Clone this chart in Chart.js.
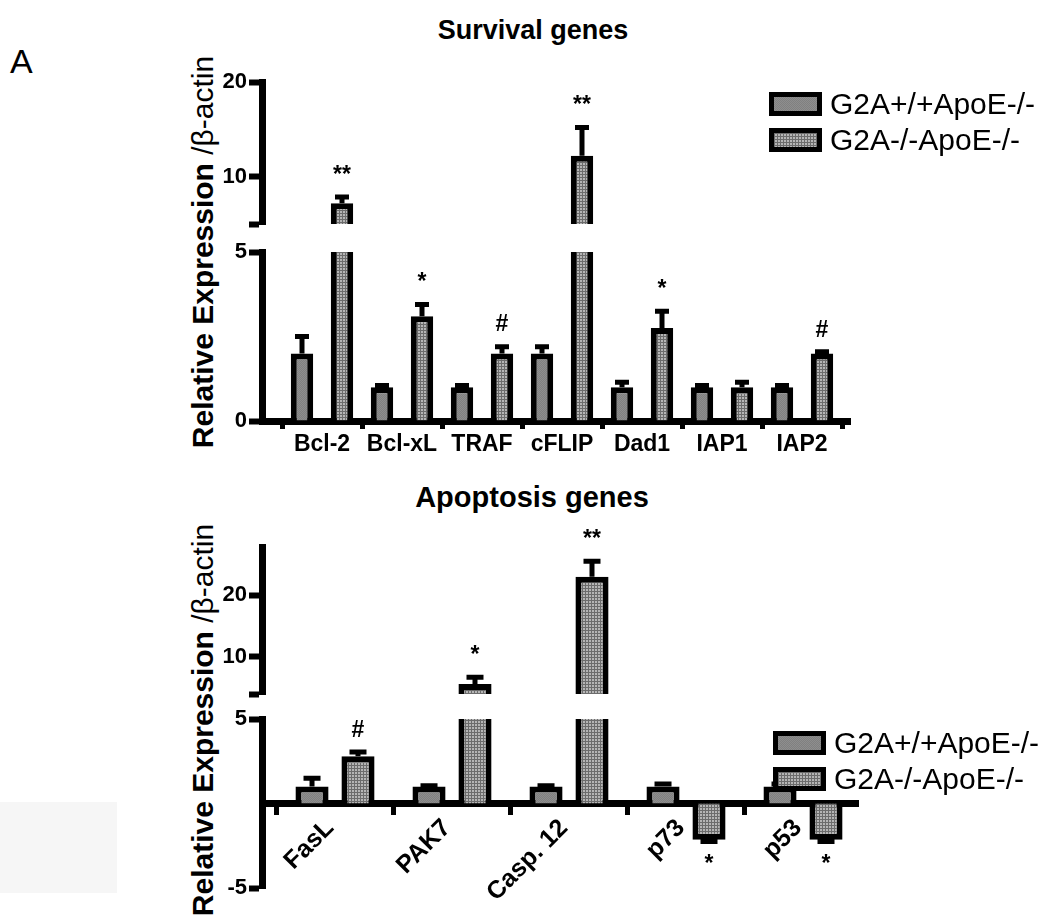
<!DOCTYPE html>
<html>
<head>
<meta charset="utf-8">
<script src="https://cdn.jsdelivr.net/npm/chart.js@4.4.1/dist/chart.umd.min.js"></script>
<style>
  body { margin: 0; background: #fff; font-family: "Liberation Sans", Arial, sans-serif; }
  #wrap { position: relative; width: 1050px; height: 923px; overflow: hidden; }
  #wrap canvas { position: absolute; left: 0; top: 0; }
  .txt { position: absolute; color: #000; white-space: nowrap; line-height: 1; }
  .title { font-weight: bold; transform: translateX(-50%); }
  .ytitle { font-size: 30px; transform: translate(-50%, -50%) rotate(-90deg); }
  .legend { position: absolute; }
  .legend .row { display: flex; align-items: center; height: 36px; }
  .legend .box { width: 43px; height: 14px; border: 5px solid #000; margin-right: 8px; }
  .legend .lbl { font-size: 30px; }
</style>
</head>
<body>
<div id="wrap">
  <div style="position:absolute;left:0;top:802px;width:117px;height:91px;background:#f6f6f6"></div>
  <div class="txt" style="left:10px;top:44px;font-size:34px">A</div>
  <div class="txt title" style="left:533px;top:17px;font-size:27px">Survival genes</div>
  <div class="txt title" style="left:532px;top:483px;font-size:29px">Apoptosis genes</div>
  <div class="txt ytitle" style="left:203px;top:252px"><b>Relative Expression </b>/β-actin</div>
  <div class="txt ytitle" style="left:203px;top:720px"><b>Relative Expression </b>/β-actin</div>
  <canvas id="survUpper" width="1050" height="923"></canvas>
  <canvas id="survLower" width="1050" height="923"></canvas>
  <canvas id="apopUpper" width="1050" height="923"></canvas>
  <canvas id="apopLower" width="1050" height="923"></canvas>
  <div class="legend" id="legendTop" style="left:769px;top:86px"></div>
  <div class="legend" id="legendBottom" style="left:773px;top:725px"></div>
</div>
<script>
// ---- data ----
const seriesNames = ['G2A+/+ApoE-/-', 'G2A-/-ApoE-/-'];

const survivalGenes = ['Bcl-2', 'Bcl-xL', 'TRAF', 'cFLIP', 'Dad1', 'IAP1', 'IAP2'];
const survivalWT = [2.0, 1.0, 1.0, 2.0, 1.0, 1.0, 1.0];
const survivalWTErr = [0.5, 0.05, 0.05, 0.2, 0.15, 0.05, 0.05];
const survivalKO = [7.2, 3.1, 2.0, 12.2, 2.75, 1.0, 2.0];
const survivalKOErr = [0.65, 0.35, 0.2, 3.0, 0.5, 0.15, 0.05];
const survivalSig = ['**', '*', '#', '**', '*', '', '#'];

const apoptosisGenes = ['FasL', 'PAK7', 'Casp. 12', 'p73', 'p53'];
const apoptosisWT = [1.0, 1.0, 1.0, 1.0, 1.0];
const apoptosisWTErr = [0.5, 0.05, 0.05, 0.15, 0.15];
const apoptosisKO = [2.8, 5.6, 23.0, -2.15, -2.15];
const apoptosisKOErr = [0.25, 1.1, 2.5, 0.1, 0.1];
const apoptosisSig = ['#', '*', '**', '*', '*'];

// y axis pieces (broken axis: upper and lower segment)
const survivalUpperRange = [5, 20];
const survivalUpperTicks = [10, 20];
const survivalLowerRange = [0, 5];
const survivalLowerTicks = [0, 5];
const apoptosisUpperRange = [4, 27.8];
const apoptosisUpperTicks = [10, 20];
const apoptosisLowerRange = [-5, 5];
const apoptosisLowerTicks = [-5, 5];

const FONT = '"Liberation Sans", Arial, sans-serif';

function makeTile(kind) {
    let c = document.createElement('canvas');
    let g = c.getContext('2d');
    if (kind == 'wt') {
        c.width = 2; c.height = 2;
        g.fillStyle = '#8e8e8e'; g.fillRect(0, 0, 2, 2);
        g.fillStyle = '#808080'; g.fillRect(1, 0, 1, 1); g.fillRect(0, 1, 1, 1);
    } else {
        c.width = 3; c.height = 3;
        g.fillStyle = '#b5b5b5'; g.fillRect(0, 0, 3, 3);
        g.fillStyle = '#6c6c6c'; g.fillRect(0, 0, 3, 1); g.fillRect(0, 0, 1, 3);
    }
    return c;
}
const tileWT = makeTile('wt');
const tileKO = makeTile('ko');

// error bars + significance marks
const errorBarPlugin = {
    id: 'errorBars',
    afterDatasetsDraw(chart, args, opts) {
        const ctx = chart.ctx;
        const area = chart.chartArea;
        const y = chart.scales.y;
        chart.data.datasets.forEach((ds, i) => {
            const meta = chart.getDatasetMeta(i);
            meta.data.forEach((bar, j) => {
                const v = ds.data[j].y;
                const dir = v < 0 ? -1 : 1;
                const tip = v + dir * ds.errors[j];
                const yv = y.getPixelForValue(v);
                const yt = y.getPixelForValue(tip);
                ctx.save();
                ctx.beginPath();
                ctx.rect(area.left, area.top, area.right - area.left, area.bottom - area.top);
                ctx.clip();
                ctx.strokeStyle = '#000';
                ctx.lineWidth = 5;
                ctx.beginPath();
                ctx.moveTo(bar.x, yv);
                ctx.lineTo(bar.x, yt);
                ctx.moveTo(bar.x - opts.cap / 2, yt);
                ctx.lineTo(bar.x + opts.cap / 2, yt);
                ctx.stroke();
                ctx.restore();

                const mark = ds.marks[j];
                if (mark && tip >= y.min && tip <= y.max) {
                    ctx.save();
                    ctx.fillStyle = '#000';
                    ctx.font = 'bold 23px ' + FONT;
                    ctx.textAlign = 'center';
                    if (dir > 0) {
                        ctx.textBaseline = 'bottom';
                        ctx.fillText(mark, bar.x, yt - 10);
                    } else {
                        ctx.textBaseline = 'top';
                        ctx.fillText(mark, bar.x, yt + 12);
                    }
                    ctx.restore();
                }
            });
        });
    }
};

function segment(id, p) {
    const bars = {
        borderColor: '#000',
        borderWidth: 6,
        borderSkipped: 'start',
        categoryPercentage: p.catPct,
        barPercentage: p.barPct,
        clip: 0
    };
    const tickVals = [p.range[0]].concat(p.ticks).filter((v, k, a) => a.indexOf(v) == k);

    const xScale = {
        type: 'linear',
        min: p.xRange[0],
        max: p.xRange[1],
        offset: false,
        afterBuildTicks: s => { s.ticks = p.labels.map((l, k) => ({ value: k })); }
    };
    if (p.xMode == 'hidden') {
        xScale.display = false;
    } else {
        xScale.position = p.xMode == 'zero' ? { y: 0 } : 'bottom';
        xScale.ticks = {
            color: '#000',
            font: { family: FONT, size: p.xFont, weight: 'bold' },
            autoSkip: false,
            minRotation: p.rotation,
            maxRotation: p.rotation,
            labelOffset: p.labelOffset,
            padding: 2,
            callback: v => p.labels[v] !== undefined ? p.labels[v] : ''
        };
        xScale.grid = { drawOnChartArea: false, drawTicks: true, tickLength: 8, tickWidth: 5, tickColor: '#000' };
        xScale.border = { display: true, width: 7, color: '#000' };
        if (p.xMode == 'bottom') {
            xScale.afterFit = s => { s.height = 40; };
        }
    }

    return new Chart(document.getElementById(id), {
        type: 'bar',
        data: {
            datasets: [
                Object.assign({ label: seriesNames[0], data: p.wt.map((v, k) => ({ x: k, y: v })), errors: p.wtErr, marks: p.wt.map(() => ''), backgroundColor: p.patWT }, bars),
                Object.assign({ label: seriesNames[1], data: p.ko.map((v, k) => ({ x: k, y: v })), errors: p.koErr, marks: p.sig, backgroundColor: p.patKO }, bars)
            ]
        },
        options: {
            responsive: false,
            animation: false,
            events: [],
            layout: { padding: p.padding },
            plugins: {
                legend: { display: false },
                tooltip: { enabled: false },
                errorBars: { cap: p.cap }
            },
            scales: {
                x: xScale,
                y: {
                    min: p.range[0],
                    max: p.range[1],
                    afterFit: s => { s.width = 70; },
                    afterBuildTicks: s => { s.ticks = tickVals.map(v => ({ value: v })); },
                    ticks: {
                        color: '#000',
                        font: { family: FONT, size: 22, weight: 'bold' },
                        padding: 2,
                        callback: v => p.ticks.includes(v) ? v : ''
                    },
                    grid: { drawOnChartArea: false, drawTicks: true, tickLength: 13, tickWidth: 6, tickColor: '#000' },
                    border: { display: true, width: 7, color: '#000' }
                }
            }
        },
        plugins: [errorBarPlugin]
    });
}

const H = 923, W = 1050;

function buildPanel(ids, labels, wt, wtErr, ko, koErr, sig, geo) {
    const ctx = document.getElementById(ids[0]).getContext('2d');
    const patWT = ctx.createPattern(tileWT, 'repeat');
    const patKO = ctx.createPattern(tileKO, 'repeat');
    const common = {
        labels, wt, wtErr, ko, koErr, sig, patWT, patKO,
        xRange: geo.xRange, catPct: geo.catPct, barPct: geo.barPct, cap: geo.cap,
        xFont: geo.xFont, labelOffset: geo.labelOffset
    };
    const upper = segment(ids[0], Object.assign({}, common, {
        range: geo.upperRange, ticks: geo.upperTicks, xMode: 'hidden', rotation: 0,
        padding: { left: geo.axisX - 70, right: W - geo.right, top: geo.upperTop, bottom: H - geo.upperBottom }
    }));
    const lower = segment(ids[1], Object.assign({}, common, {
        range: geo.lowerRange, ticks: geo.lowerTicks, xMode: geo.xMode, rotation: geo.rotation,
        padding: { left: geo.axisX - 70, right: W - geo.right, top: geo.lowerTop, bottom: geo.xMode == 'bottom' ? H - geo.lowerBottom - 40 : H - geo.lowerBottom }
    }));
    return [upper, lower];
}

const surv = buildPanel(['survUpper', 'survLower'], survivalGenes, survivalWT, survivalWTErr, survivalKO, survivalKOErr, survivalSig, {
    axisX: 262, right: 850, xRange: [-0.75, 6.6],
    upperRange: survivalUpperRange, upperTicks: survivalUpperTicks, upperTop: 82, upperBottom: 224,
    lowerRange: survivalLowerRange, lowerTicks: survivalLowerTicks, lowerTop: 252, lowerBottom: 421,
    xMode: 'bottom', rotation: 0, catPct: 1.0, barPct: 0.56, cap: 14, xFont: 23, labelOffset: 0
});

const apop = buildPanel(['apopUpper', 'apopLower'], apoptosisGenes, apoptosisWT, apoptosisWTErr, apoptosisKO, apoptosisKOErr, apoptosisSig, {
    axisX: 262, right: 858, xRange: [-0.624, 4.47],
    upperRange: apoptosisUpperRange, upperTicks: apoptosisUpperTicks, upperTop: 547, upperBottom: 694,
    lowerRange: apoptosisLowerRange, lowerTicks: apoptosisLowerTicks, lowerTop: 719, lowerBottom: 888,
    xMode: 'zero', rotation: 45, catPct: 0.786, barPct: 0.72, cap: 17, xFont: 25, labelOffset: -5
});

// legends built from the dataset labels
function buildLegend(elId, chart) {
    const el = document.getElementById(elId);
    const tiles = [tileWT, tileKO];
    chart.data.datasets.forEach((ds, i) => {
        const row = document.createElement('div');
        row.className = 'row';
        const box = document.createElement('div');
        box.className = 'box';
        box.style.backgroundImage = 'url(' + tiles[i].toDataURL() + ')';
        const lbl = document.createElement('span');
        lbl.className = 'lbl';
        lbl.textContent = ds.label;
        row.appendChild(box);
        row.appendChild(lbl);
        el.appendChild(row);
    });
}
buildLegend('legendTop', surv[1]);
buildLegend('legendBottom', apop[1]);
</script>
</body>
</html>
